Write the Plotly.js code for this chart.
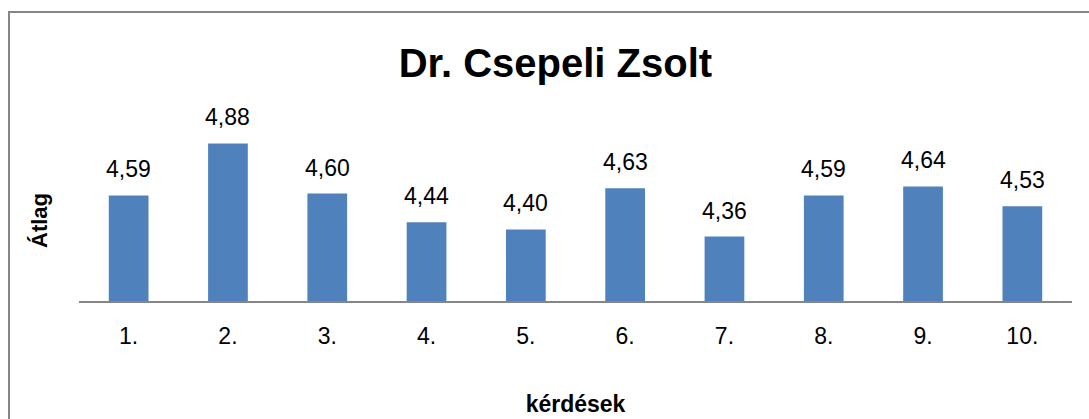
<!DOCTYPE html>
<html>
<head>
<meta charset="utf-8">
<script src="https://cdn.plot.ly/plotly-3.0.1.min.js"></script>
<style>
  html, body { margin: 0; padding: 0; background: #fff; }
  #wrap { position: relative; width: 1089px; height: 419px; overflow: hidden; }
  #chart { position: absolute; left: 0; top: 0; width: 1089px; height: 419px; }
  #frame { position: absolute; left: 8px; top: 11px; width: 1100px; height: 440px;
           border: 2px solid #868686; pointer-events: none; box-sizing: border-box; }
</style>
</head>
<body>
<div id="wrap">
  <div id="chart"></div>
  <div id="frame"></div>
</div>
<script>
const categories = ["1.", "2.", "3.", "4.", "5.", "6.", "7.", "8.", "9.", "10."];
const values = [4.59, 4.88, 4.60, 4.44, 4.40, 4.63, 4.36, 4.59, 4.64, 4.53];
const chartTitle = "Dr. Csepeli Zsolt";
const xTitle = "kérdések";
const yTitle = "Átlag";

const FONT = "Liberation Sans, Arial, sans-serif";

const trace = {
  type: "bar",
  x: categories,
  y: values,
  marker: { color: "#4F81BD" },
  hoverinfo: "skip"
};

const labels = categories.map((c, i) => ({
  x: i,
  y: values[i],
  xref: "x",
  yref: "y",
  text: values[i].toFixed(2).replace(".", ","),
  showarrow: false,
  yanchor: "bottom",
  yshift: 11,
  font: { family: FONT, size: 23, color: "#000" }
}));

labels.push({
  xref: "paper", yref: "paper",
  x: -0.0403, y: 0.4525,
  xanchor: "center", yanchor: "middle",
  textangle: -90,
  text: "<b>" + yTitle + "</b>",
  showarrow: false,
  font: { family: FONT, size: 22, color: "#000" }
});

const layout = {
  width: 1089,
  height: 419,
  margin: { l: 79, r: 17, t: 122, b: 118, pad: 0 },
  paper_bgcolor: "rgba(0,0,0,0)",
  plot_bgcolor: "rgba(0,0,0,0)",
  showlegend: false,
  bargap: 0.6,
  title: {
    text: "<b>" + chartTitle + "</b>",
    font: { family: FONT, size: 40, color: "#000" },
    x: 0.51, xanchor: "center",
    y: 0.85, yanchor: "middle"
  },
  xaxis: {
    type: "category",
    range: [-0.5, 9.5],
    showline: true,
    linecolor: "#868686",
    linewidth: 2,
    ticks: "",
    ticklabelstandoff: 13,
    tickfont: { family: FONT, size: 23, color: "#000" },
    showgrid: false,
    zeroline: false,
    title: {
      text: "<b>" + xTitle + "</b>",
      font: { family: FONT, size: 23, color: "#000" },
      standoff: 48
    }
  },
  yaxis: {
    range: [4.0, 5.0],
    showgrid: false,
    zeroline: false,
    showline: false,
    showticklabels: false,
    ticks: ""
  },
  annotations: labels
};

Plotly.newPlot("chart", [trace], layout, { displayModeBar: false, staticPlot: true });
</script>
</body>
</html>
